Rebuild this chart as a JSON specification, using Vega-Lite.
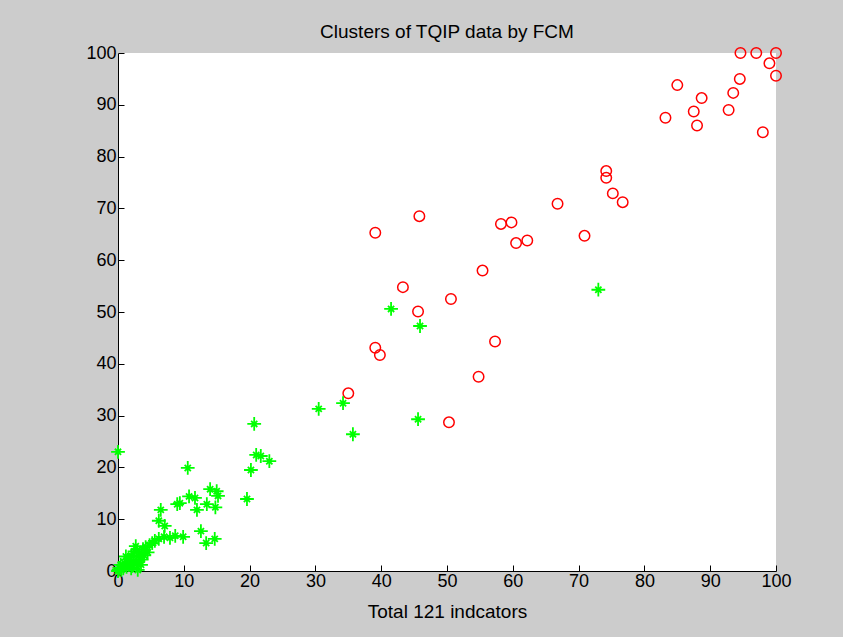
{
  "$schema": "https://vega.github.io/schema/vega-lite/v6.json",
  "width": 658,
  "height": 518,
  "autosize": {"type": "none"},
  "padding": {"left": 118, "top": 53, "right": 67, "bottom": 66},
  "background": "#cccccc",
  "config": {
    "font": "Liberation Sans",
    "view": {"fill": "white", "stroke": null},
    "axis": {
      "grid": false,
      "domainColor": "black",
      "domainWidth": 1,
      "tickColor": "black",
      "tickSize": -6,
      "labelColor": "black",
      "labelFont": "Liberation Sans",
      "labelFontSize": 18,
      "titleFont": "Liberation Sans",
      "titleFontSize": 19,
      "titleFontWeight": "normal",
      "titleColor": "black"
    }
  },
  "title": {
    "text": "Clusters of TQIP data by FCM",
    "font": "Liberation Sans",
    "fontSize": 19,
    "fontWeight": "normal",
    "color": "black",
    "anchor": "middle",
    "baseline": "alphabetic",
    "offset": 5,
    "dy": 18
  },
  "data": {
    "values": [
      {"x": 94.6, "y": 100, "g": "c1"}, {"x": 97, "y": 100, "g": "c1"}, {"x": 100, "y": 100, "g": "c1"},
      {"x": 99, "y": 98, "g": "c1"}, {"x": 100, "y": 95.6, "g": "c1"}, {"x": 94.5, "y": 95, "g": "c1"},
      {"x": 85, "y": 93.8, "g": "c1"}, {"x": 93.5, "y": 92.3, "g": "c1"}, {"x": 88.7, "y": 91.3, "g": "c1"},
      {"x": 92.8, "y": 89, "g": "c1"}, {"x": 87.5, "y": 88.7, "g": "c1"}, {"x": 83.2, "y": 87.5, "g": "c1"},
      {"x": 88, "y": 86, "g": "c1"}, {"x": 98, "y": 84.7, "g": "c1"}, {"x": 74.2, "y": 77.2, "g": "c1"},
      {"x": 74.2, "y": 75.9, "g": "c1"}, {"x": 75.2, "y": 72.9, "g": "c1"}, {"x": 76.7, "y": 71.2, "g": "c1"},
      {"x": 66.8, "y": 70.9, "g": "c1"}, {"x": 70.9, "y": 64.7, "g": "c1"}, {"x": 45.8, "y": 68.5, "g": "c1"},
      {"x": 39.1, "y": 65.3, "g": "c1"}, {"x": 58.2, "y": 67.0, "g": "c1"}, {"x": 59.8, "y": 67.3, "g": "c1"},
      {"x": 60.5, "y": 63.3, "g": "c1"}, {"x": 62.2, "y": 63.8, "g": "c1"}, {"x": 55.4, "y": 58.0, "g": "c1"},
      {"x": 43.3, "y": 54.8, "g": "c1"}, {"x": 50.6, "y": 52.5, "g": "c1"}, {"x": 45.6, "y": 50.1, "g": "c1"},
      {"x": 39.1, "y": 43.1, "g": "c1"}, {"x": 39.8, "y": 41.7, "g": "c1"}, {"x": 57.3, "y": 44.3, "g": "c1"},
      {"x": 54.8, "y": 37.5, "g": "c1"}, {"x": 35.0, "y": 34.3, "g": "c1"}, {"x": 50.3, "y": 28.7, "g": "c1"},
      {"x": 0, "y": 0, "g": "c2"}, {"x": 0.2, "y": 0.6, "g": "c2"}, {"x": 0.5, "y": 0.2, "g": "c2"},
      {"x": 0.4, "y": 1.2, "g": "c2"}, {"x": 0.8, "y": 0.5, "g": "c2"}, {"x": 1.0, "y": 1.5, "g": "c2"},
      {"x": 1.3, "y": 0.8, "g": "c2"}, {"x": 1.5, "y": 2.2, "g": "c2"}, {"x": 1.7, "y": 1.2, "g": "c2"},
      {"x": 2.0, "y": 3.0, "g": "c2"}, {"x": 2.0, "y": 0.5, "g": "c2"}, {"x": 2.3, "y": 2.0, "g": "c2"},
      {"x": 2.5, "y": 3.8, "g": "c2"}, {"x": 2.7, "y": 4.8, "g": "c2"}, {"x": 2.8, "y": 1.5, "g": "c2"},
      {"x": 3.0, "y": 0.2, "g": "c2"}, {"x": 3.1, "y": 2.8, "g": "c2"}, {"x": 3.3, "y": 3.5, "g": "c2"},
      {"x": 3.6, "y": 2.2, "g": "c2"}, {"x": 3.8, "y": 4.2, "g": "c2"}, {"x": 4.0, "y": 3.0, "g": "c2"},
      {"x": 4.2, "y": 4.6, "g": "c2"}, {"x": 4.5, "y": 3.6, "g": "c2"}, {"x": 4.8, "y": 5.0, "g": "c2"},
      {"x": 5.2, "y": 5.4, "g": "c2"}, {"x": 1.2, "y": 2.8, "g": "c2"}, {"x": 2.2, "y": 1.0, "g": "c2"},
      {"x": 0.1, "y": 0.2, "g": "c2"}, {"x": 3.5, "y": 1.2, "g": "c2"},
      {"x": 5.6, "y": 5.8, "g": "c2"}, {"x": 6.2, "y": 6.2, "g": "c2"}, {"x": 7.0, "y": 6.6, "g": "c2"},
      {"x": 7.9, "y": 6.4, "g": "c2"}, {"x": 8.7, "y": 6.8, "g": "c2"}, {"x": 9.9, "y": 6.6, "g": "c2"},
      {"x": 6.5, "y": 11.8, "g": "c2"}, {"x": 6.2, "y": 9.7, "g": "c2"}, {"x": 7.1, "y": 8.7, "g": "c2"},
      {"x": 9.0, "y": 12.9, "g": "c2"}, {"x": 9.4, "y": 13.1, "g": "c2"}, {"x": 10.6, "y": 19.9, "g": "c2"},
      {"x": 10.8, "y": 14.4, "g": "c2"}, {"x": 11.7, "y": 14.1, "g": "c2"}, {"x": 12.0, "y": 11.8, "g": "c2"},
      {"x": 13.5, "y": 12.9, "g": "c2"}, {"x": 14.0, "y": 15.8, "g": "c2"}, {"x": 15.0, "y": 15.4, "g": "c2"},
      {"x": 15.2, "y": 14.5, "g": "c2"}, {"x": 14.8, "y": 12.3, "g": "c2"}, {"x": 12.6, "y": 7.7, "g": "c2"},
      {"x": 13.4, "y": 5.4, "g": "c2"}, {"x": 14.7, "y": 6.2, "g": "c2"}, {"x": 19.6, "y": 13.9, "g": "c2"},
      {"x": 20.2, "y": 19.5, "g": "c2"}, {"x": 20.7, "y": 28.4, "g": "c2"}, {"x": 21.0, "y": 22.4, "g": "c2"},
      {"x": 21.7, "y": 22.2, "g": "c2"}, {"x": 23.0, "y": 21.2, "g": "c2"}, {"x": 0, "y": 23.0, "g": "c2"},
      {"x": 30.5, "y": 31.3, "g": "c2"}, {"x": 34.2, "y": 32.4, "g": "c2"}, {"x": 35.7, "y": 26.4, "g": "c2"},
      {"x": 41.5, "y": 50.6, "g": "c2"}, {"x": 45.9, "y": 47.3, "g": "c2"}, {"x": 45.6, "y": 29.3, "g": "c2"},
      {"x": 73.0, "y": 54.3, "g": "c2"}
    ]
  },
  "encoding": {
    "x": {
      "field": "x", "type": "quantitative",
      "scale": {"domain": [0, 100], "nice": false},
      "axis": {"values": [0, 10, 20, 30, 40, 50, 60, 70, 80, 90, 100], "title": "Total 121 indcators", "labelPadding": 7, "titlePadding": 12, "labelFlush": false}
    },
    "y": {
      "field": "y", "type": "quantitative",
      "scale": {"domain": [0, 100], "nice": false},
      "axis": {"values": [0, 10, 20, 30, 40, 50, 60, 70, 80, 90, 100], "title": null, "labelPadding": 8, "labelFlush": false}
    }
  },
  "layer": [
    {
      "transform": [{"filter": "datum.g === 'c1'"}],
      "mark": {"type": "point", "shape": "circle", "filled": false, "stroke": "#ff0000", "strokeWidth": 1.5, "size": 110, "opacity": 1, "clip": false}
    },
    {
      "transform": [{"filter": "datum.g === 'c2'"}],
      "mark": {"type": "point", "shape": "M-1,0L1,0M0,-1L0,1M-0.45,-0.45L0.45,0.45M-0.45,0.45L0.45,-0.45", "filled": false, "stroke": "#00ff00", "strokeWidth": 1.8, "size": 190, "opacity": 1, "clip": false}
    }
  ]
}
